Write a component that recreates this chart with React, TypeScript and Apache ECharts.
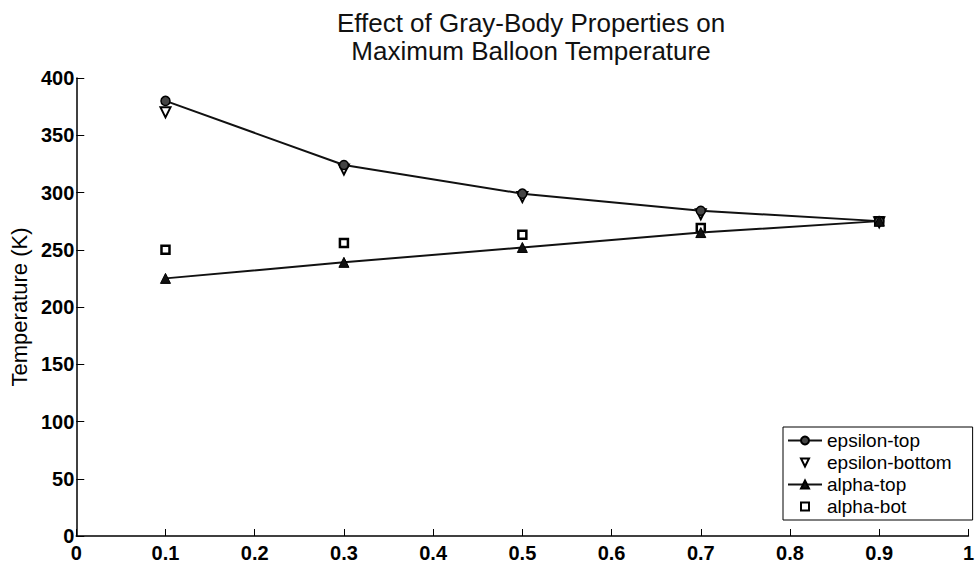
import React, { useEffect, useRef } from "react";
import * as echarts from "echarts";

const xValues = [0.1, 0.3, 0.5, 0.7, 0.9];
const epsilonTop = [380, 324, 299, 284, 275];
const epsilonBottom = [370, 320, 296, 281, 274];
const alphaTop = [225, 239, 252, 265, 275];
const alphaBot = [250, 256, 263, 269, 275];

const titleLines = ["Effect of Gray-Body Properties on", "Maximum Balloon Temperature"];
const yAxisName = "Temperature (K)";
const legendNames = ["epsilon-top", "epsilon-bottom", "alpha-top", "alpha-bot"];

const pairs = (ys: number[]) => xValues.map((x, i) => [x, ys[i]]);

export default function App() {
  const ref = useRef<HTMLDivElement>(null);
  useEffect(() => {
    document.body.style.margin = "0";
    if (!ref.current) return;
    const chart = echarts.init(ref.current, undefined, { renderer: "svg" });
    const font = "Liberation Sans, Arial, sans-serif";
    chart.setOption({
      animation: false,
      backgroundColor: "#ffffff",
      textStyle: { fontFamily: font, color: "#000" },
      title: {
        text: titleLines.join("\n"),
        left: 526,
        textAlign: "center",
        top: 4,
        textStyle: { fontFamily: font, fontSize: 26, fontWeight: "normal", color: "#111", lineHeight: 28 },
      },
      grid: { left: 74, right: 2, top: 78, bottom: 30, containLabel: false },
      legend: {
        orient: "vertical",
        left: 783,
        top: 427,
        padding: [4, 21, 4, 4],
        itemGap: 3,
        itemWidth: 34,
        itemHeight: 10,
        borderColor: "#000",
        borderWidth: 1,
        backgroundColor: "#fff",
        textStyle: { fontFamily: font, fontSize: 19, color: "#000", lineHeight: 18 },
        data: legendNames,
      },
      xAxis: {
        type: "value",
        min: 0,
        max: 1,
        interval: 0.1,
        axisLine: { show: true, lineStyle: { color: "#000", width: 1.5 } },
        axisTick: { show: true, inside: true, length: 7, lineStyle: { color: "#000" } },
        axisLabel: {
          fontFamily: font,
          fontSize: 20,
          fontWeight: "bold",
          color: "#000",
          margin: 7,
          formatter: (v: number) => String(Math.round(v * 10) / 10),
        },
        splitLine: { show: false },
      },
      yAxis: {
        type: "value",
        min: 0,
        max: 400,
        interval: 50,
        name: yAxisName,
        nameLocation: "middle",
        nameGap: 44,
        nameTextStyle: { fontFamily: font, fontSize: 22, color: "#000" },
        axisLine: { show: true, lineStyle: { color: "#000", width: 1.5 } },
        axisTick: { show: true, inside: true, length: 8, lineStyle: { color: "#000" } },
        axisLabel: { fontFamily: font, fontSize: 20, fontWeight: "bold", color: "#000", margin: 2 },
        splitLine: { show: false },
      },
      series: [
        {
          name: legendNames[0],
          type: "line",
          data: pairs(epsilonTop),
          symbol: "circle",
          symbolSize: 9,
          lineStyle: { color: "#111", width: 2 },
          itemStyle: { color: "#444", borderColor: "#000", borderWidth: 1.5 },
          z: 4,
        },
        {
          name: legendNames[1],
          type: "line",
          data: pairs(epsilonBottom),
          symbol: "triangle",
          symbolRotate: 180,
          symbolSize: 10,
          lineStyle: { width: 0, opacity: 0 },
          itemStyle: { color: "#fff", borderColor: "#000", borderWidth: 2 },
          z: 3,
        },
        {
          name: legendNames[2],
          type: "line",
          data: pairs(alphaTop),
          symbol: "triangle",
          symbolSize: 10,
          lineStyle: { color: "#111", width: 2 },
          itemStyle: { color: "#111", borderColor: "#000", borderWidth: 1 },
          z: 4,
        },
        {
          name: legendNames[3],
          type: "line",
          data: pairs(alphaBot),
          symbol: "rect",
          symbolSize: 8,
          lineStyle: { width: 0, opacity: 0 },
          itemStyle: { color: "#fff", borderColor: "#000", borderWidth: 2.5 },
          z: 3,
        },
      ],
    });
    return () => chart.dispose();
  }, []);
  return <div ref={ref} style={{ width: 977, height: 566 }} />;
}
